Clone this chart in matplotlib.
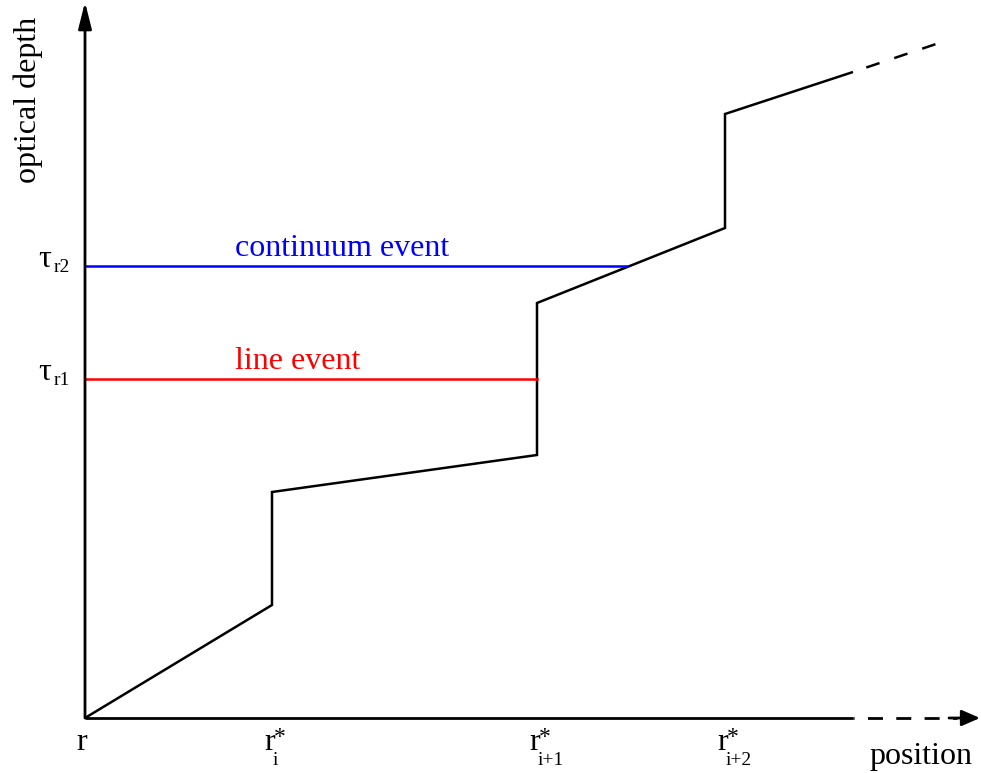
import matplotlib
matplotlib.use("Agg")
import matplotlib.pyplot as plt

plt.rcParams["font.family"] = ["Liberation Serif", "DejaVu Serif"]

# optical depth along the path: slow continuum growth, jumps at line resonances
depth_x = [0, 187, 187, 452, 452, 640, 640, 768]
depth_y = [0, 113, 226, 263, 415, 490, 604, 646]
extrap_x = [768, 854]
extrap_y = [646, 675]

# resonance positions on the position axis
tick_pos = [0, 187, 452, 640]
tick_subs = [None, "i", "i+1", "i+2"]

# random optical depths drawn for the two events
tau_levels = [339, 452]
tau_subs = ["r1", "r2"]
event_end_x = [452, 542]
event_names = ["line event", "continuum event"]
event_colors = ["#ff0000", "#0000ff"]

fig = plt.figure(figsize=(9.81, 7.73), dpi=100)
ax = fig.add_axes([0, 0, 1, 1])
ax.set_xlim(-85, 896)
ax.set_ylim(-55, 718)
ax.axis("off")

lw = 1.8
fs = 23
fs_small = 14
dash_gap_first = (6.2, (5.6, 6.2))

# vertical axis with arrow
ax.annotate("", xy=(0, 716), xytext=(0, 0),
            arrowprops=dict(arrowstyle="-|>,head_length=0.8,head_width=0.2",
                            mutation_scale=20, lw=2.0, color="k",
                            shrinkA=0, shrinkB=0))
# horizontal axis: solid, then dashed towards the arrow
ax.plot([0, 768], [0, 0], color="k", lw=2.0, solid_capstyle="butt")
ax.plot([768, 872], [0, 0], color="k", lw=2.0, linestyle=(5.0, (5.4, 4.8)))
ax.annotate("", xy=(895, 0), xytext=(864, 0),
            arrowprops=dict(arrowstyle="-|>,head_length=0.55,head_width=0.24",
                            mutation_scale=20, lw=2.0, color="k",
                            shrinkA=0, shrinkB=0))

# optical depth curve
ax.plot(depth_x, depth_y, color="k", lw=lw, solid_joinstyle="miter",
        solid_capstyle="butt")
ax.plot(extrap_x, extrap_y, color="k", lw=lw, linestyle=dash_gap_first,
        dash_capstyle="butt")

# event levels
for lev, sub, xe, name, col in zip(tau_levels, tau_subs, event_end_x,
                                   event_names, event_colors):
    ax.plot([0, xe], [lev, lev], color=col, lw=lw)
    ax.text(150, lev + 10, name, color=col, fontsize=fs, ha="left", va="baseline")
    ax.text(-34, lev - 1, "\u03c4", fontsize=fs, ha="right", va="baseline")
    ax.text(-31, lev - 6, sub, fontsize=fs_small, ha="left", va="baseline")

# position labels r, r*_i, ...
for xp, sub in zip(tick_pos, tick_subs):
    if sub is None:
        ax.text(xp + 2, -32, "r", fontsize=fs, ha="right", va="baseline")
        continue
    ax.text(xp + 3, -32, "r", fontsize=fs, ha="right", va="baseline")
    ax.text(xp + 2, -25, "*", fontsize=fs_small + 3, ha="left", va="baseline")
    ax.text(xp + 1, -47, sub, fontsize=fs_small, ha="left", va="baseline")

ax.text(836, -46, "position", fontsize=fs, ha="center", va="baseline")
ax.text(-57, 618, "optical depth", fontsize=fs, ha="center", va="center",
        rotation=90)

fig.savefig("out.png", dpi=100)
